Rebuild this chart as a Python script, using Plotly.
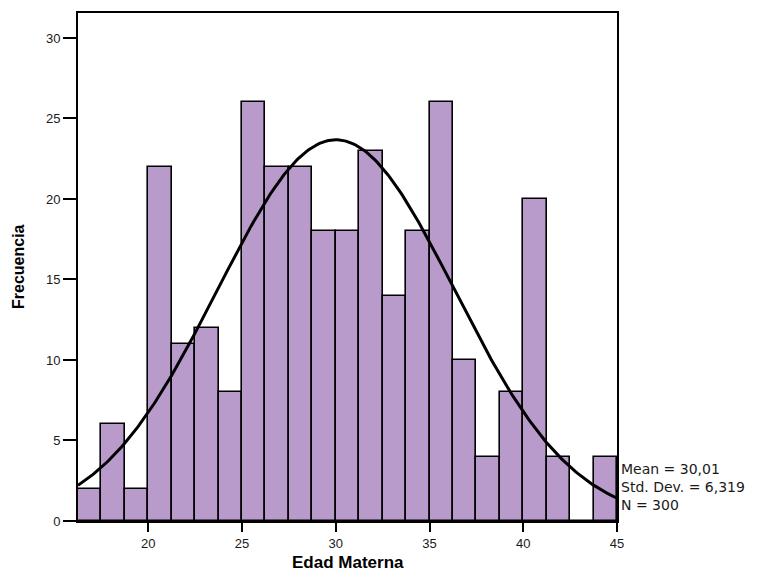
import numpy as np
import plotly.graph_objects as go

# Histogram of maternal age: bins of 1.25 years starting at 16.25
bin_start = 16.25
bin_width = 1.25
counts = [2, 6, 2, 22, 11, 12, 8, 26, 22, 22, 18, 18, 23, 14, 18, 26, 10, 4, 8, 20, 4, 0, 4]

# Summary statistics shown beside the chart
mean_val = 30.01
std_val = 6.319
n_val = 300

x_ticks = [20, 25, 30, 35, 40, 45]
y_ticks = [0, 5, 10, 15, 20, 25, 30]

centers = [bin_start + bin_width * (i + 0.5) for i in range(len(counts))]
x_max = bin_start + bin_width * len(counts)

# Fitted normal curve scaled to counts
xs = np.linspace(bin_start, x_max, 300)
ys = n_val * bin_width / (std_val * np.sqrt(2 * np.pi)) * np.exp(-0.5 * ((xs - mean_val) / std_val) ** 2)

fig = go.Figure()
fig.add_trace(go.Bar(
    x=centers, y=counts, width=bin_width,
    marker=dict(color="#B99BCB", line=dict(color="black", width=1.6)),
    hoverinfo="skip",
))
fig.add_trace(go.Scatter(
    x=xs, y=ys, mode="lines",
    line=dict(color="black", width=3),
    hoverinfo="skip",
))

def fmt(v, d):
    return f"{v:.{d}f}".replace(".", ",")

fig.update_layout(
    width=762, height=573,
    margin=dict(l=78, r=145, t=13, b=52),
    paper_bgcolor="white", plot_bgcolor="white",
    showlegend=False,
    bargap=0,
    font=dict(family="Liberation Sans, Arial, sans-serif", color="#222", size=12),
    xaxis=dict(
        range=[bin_start, x_max], tickvals=x_ticks,
        showline=True, linecolor="black", linewidth=2, mirror=True,
        ticks="outside", ticklen=9, tickwidth=1.5, tickcolor="black",
        showgrid=False, zeroline=False,
        tickfont=dict(size=13, family="Liberation Sans, Arial, sans-serif", color="#1a1a1a"),
    ),
    yaxis=dict(
        range=[0, 31.55], tickvals=y_ticks,
        showline=True, linecolor="black", linewidth=2, mirror=True,
        ticks="outside", ticklen=13, tickwidth=1.5, tickcolor="black",
        showgrid=False, zeroline=False,
        tickfont=dict(size=13, family="Liberation Sans, Arial, sans-serif", color="#1a1a1a"),
    ),
    annotations=[
        dict(
            text="Edad Materna", xref="paper", yref="paper", x=0.5, y=0,
            xanchor="center", yanchor="middle", yshift=-41, showarrow=False,
            font=dict(size=17, family="Liberation Sans, Arial, sans-serif", color="black", weight="bold"),
        ),
        dict(
            text="Frecuencia", xref="paper", yref="paper", x=0, y=0.5,
            xanchor="center", yanchor="middle", xshift=-60, textangle=-90, showarrow=False,
            font=dict(size=16, family="Liberation Sans, Arial, sans-serif", color="black", weight="bold"),
        ),
        dict(
            text=f"Mean = {fmt(mean_val, 2)}<br>Std. Dev. = {fmt(std_val, 3)}<br>N = {n_val}",
            xref="paper", yref="y", x=1, y=2.1, xanchor="left", yanchor="middle",
            xshift=2, align="left", showarrow=False,
            font=dict(size=14, family="DejaVu Sans, sans-serif", color="#1a1a1a"),
        ),
    ],
)

fig.write_html("out.html")
